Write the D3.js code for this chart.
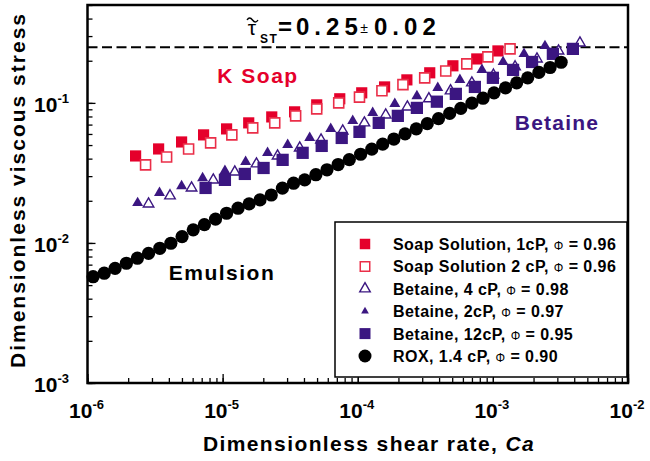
<!DOCTYPE html>
<meta charset="utf-8">
<head>
<script src="https://d3js.org/d3.v7.min.js"></script>
<style>
  body { margin: 0; background: #fff; }
  text { font-family: "Liberation Sans", Arial, sans-serif; font-weight: bold; fill: #000; }
</style>
</head>
<body>
<script>

// ---- data (Ca, dimensionless stress) ----
var soap1Ca  = [2.27e-6,3.36e-6,4.97e-6,7.23e-6,1.07e-5,1.56e-5,2.31e-5,3.41e-5,4.97e-5,7.36e-5,1.07e-4,1.58e-4,2.31e-4,3.41e-4,5.06e-4,7.60e-4,1.09e-3];
var soap1Tau = [0.0418,0.0469,0.0526,0.0591,0.0652,0.0720,0.0794,0.0863,0.0968,0.107,0.118,0.130,0.146,0.164,0.184,0.206,0.235];

var soap2Ca  = [2.69e-6,3.85e-6,5.60e-6,8.15e-6,1.17e-5,1.67e-5,2.43e-5,3.47e-5,4.97e-5,7.23e-5,1.03e-4,1.51e-4,2.16e-4,3.13e-4,4.48e-4,6.41e-4,9.18e-4,1.34e-3];
var soap2Tau = [0.0361,0.0411,0.0469,0.0518,0.0591,0.0663,0.0720,0.0808,0.0906,0.100,0.110,0.122,0.135,0.151,0.169,0.190,0.213,0.243];

var bet4Ca  = [2.83e-6,4.08e-6,5.89e-6,8.53e-6,1.23e-5,1.78e-5,2.55e-5,3.72e-5,5.35e-5,7.74e-5,1.12e-4,1.61e-4,2.33e-4,3.36e-4,4.86e-4,6.99e-4,1.01e-3,1.46e-3,2.12e-3,3.06e-3,4.41e-3];
var bet4Tau = [0.0190,0.0217,0.0247,0.0282,0.0321,0.0367,0.0418,0.0477,0.0544,0.0631,0.0720,0.0821,0.0936,0.107,0.122,0.139,0.158,0.181,0.206,0.235,0.268];

var bet2Ca  = [2.35e-6,3.41e-6,4.97e-6,7.11e-6,1.04e-5,1.48e-5,2.15e-5,3.03e-5,4.41e-5,6.31e-5,9.18e-5,1.29e-4,1.88e-4,2.74e-4,3.91e-4,5.70e-4,8.30e-4,1.19e-3,1.70e-3,2.43e-3];
var bet2Tau = [0.0193,0.0228,0.0255,0.0291,0.0327,0.0379,0.0440,0.0501,0.0562,0.0652,0.0744,0.0849,0.0984,0.112,0.128,0.146,0.172,0.196,0.224,0.255];

var bet12Ca  = [7.48e-6,1.04e-5,1.46e-5,2.01e-5,2.78e-5,3.91e-5,5.41e-5,7.61e-5,1.03e-4,1.43e-4,1.98e-4,2.74e-4,3.85e-4,5.32e-4,7.36e-4,1.00e-3,1.41e-3,1.95e-3,2.78e-3,3.91e-3];
var bet12Tau = [0.0247,0.0282,0.0311,0.0343,0.0392,0.0440,0.0493,0.0562,0.0621,0.0720,0.0808,0.0921,0.102,0.116,0.130,0.151,0.172,0.196,0.224,0.243];

var roxCa  = [1.10e-6,1.33e-6,1.60e-6,1.94e-6,2.34e-6,2.83e-6,3.43e-6,4.14e-6,5.01e-6,6.06e-6,7.33e-6,8.86e-6,1.07e-5,1.30e-5,1.57e-5,1.89e-5,2.29e-5,2.77e-5,3.35e-5,4.05e-5,4.90e-5,5.92e-5,7.16e-5,8.66e-5,1.05e-4,1.27e-4,1.53e-4,1.85e-4,2.24e-4,2.71e-4,3.27e-4,3.96e-4,4.79e-4,5.79e-4,7.00e-4,8.46e-4,1.02e-3,1.24e-3,1.50e-3,1.81e-3,2.19e-3,2.65e-3,3.20e-3];
var roxTau = [0.00574,0.00608,0.00659,0.00716,0.00778,0.00843,0.00916,0.00995,0.0111,0.0124,0.0135,0.0148,0.0163,0.0177,0.0190,0.0203,0.0220,0.0246,0.0267,0.0282,0.0307,0.0333,0.0363,0.0394,0.0430,0.0467,0.0508,0.0552,0.0601,0.0653,0.0711,0.0773,0.0841,0.0914,0.0995,0.108,0.118,0.128,0.139,0.151,0.165,0.179,0.195];

var tauST = 0.25;

var caMajor = [1e-6, 1e-5, 1e-4, 1e-3, 1e-2];
var caExp = ["-6", "-5", "-4", "-3", "-2"];
var tauMajor = [1e-3, 1e-2, 1e-1];
var tauExp = ["-3", "-2", "-1"];

var legendNames = [
  ["Soap Solution, 1cP, ", " = 0.96"],
  ["Soap Solution 2 cP, ", " = 0.96"],
  ["Betaine, 4 cP, ", " = 0.98"],
  ["Betaine, 2cP, ", " = 0.97"],
  ["Betaine, 12cP, ", " = 0.95"],
  ["ROX, 1.4 cP, ", " = 0.90"]
];

// ---- drawing ----
var width = 650, height = 461;
var red = "#e5002b", redLine = "#ea2e48", purple = "#3b1681";

var svg = d3.select("body").append("svg")
  .attr("width", width)
  .attr("height", height);

var x = d3.scaleLog().domain([1e-6, 1e-2]).range([87.5, 628]);
var y = d3.scaleLog().domain([1e-3, 0.5]).range([383, 5]);

// inward ticks, minor then major
function styleTicks(g) {
  g.select(".domain").remove();
  g.selectAll("line").attr("stroke", "#000").attr("stroke-width", 1.3);
}
svg.append("g").attr("transform", "translate(0,383)")
  .call(d3.axisBottom(x).tickValues(x.ticks()).tickSizeInner(-5).tickSizeOuter(0).tickFormat(""))
  .call(styleTicks);
svg.append("g").attr("transform", "translate(0,383)")
  .call(d3.axisBottom(x).tickValues(caMajor).tickSizeInner(-9).tickSizeOuter(0).tickFormat(""))
  .call(styleTicks);
svg.append("g").attr("transform", "translate(87.5,0)")
  .call(d3.axisLeft(y).tickValues(y.ticks()).tickSizeInner(-5).tickSizeOuter(0).tickFormat(""))
  .call(styleTicks);
svg.append("g").attr("transform", "translate(87.5,0)")
  .call(d3.axisLeft(y).tickValues(tauMajor).tickSizeInner(-8).tickSizeOuter(0).tickFormat(""))
  .call(styleTicks);

// tick labels 10^n
svg.selectAll(".xlab").data(caMajor).enter().append("text")
  .attr("class", "xlab")
  .attr("x", function(d) { return x(d) - 1; })
  .attr("y", 418)
  .attr("text-anchor", "middle")
  .style("font-size", "21px")
  .each(function(d, i) {
    var t = d3.select(this);
    t.append("tspan").text("10");
    t.append("tspan").attr("dy", -9).style("font-size", "13px").text(caExp[i]);
  });

svg.selectAll(".ylab").data(tauMajor).enter().append("text")
  .attr("class", "ylab")
  .attr("x", 69)
  .attr("y", function(d) { return y(d) + 9; })
  .attr("text-anchor", "end")
  .style("font-size", "21px")
  .each(function(d, i) {
    var t = d3.select(this);
    t.append("tspan").text("10");
    t.append("tspan").attr("dy", -9).style("font-size", "13px").text(tauExp[i]);
  });

// axis titles
svg.append("text")
  .attr("transform", "translate(25,190) rotate(-90)")
  .attr("text-anchor", "middle")
  .style("font-size", "21px")
  .style("letter-spacing", "2px")
  .text("Dimensionless viscous stress");

var xt = svg.append("text")
  .attr("x", 369).attr("y", 451)
  .attr("text-anchor", "middle")
  .style("font-size", "21px")
  .style("letter-spacing", "1.4px");
xt.append("tspan").text("Dimensionless shear rate, ");
xt.append("tspan").style("font-style", "italic").text("Ca");

// dashed yield-stress line
svg.append("line")
  .attr("x1", x(1e-6)).attr("x2", x(1e-2))
  .attr("y1", y(tauST)).attr("y2", y(tauST))
  .attr("stroke", "#000").attr("stroke-width", 2)
  .attr("stroke-dasharray", "10,4.5");

// title  tau~_ST = 0.25 +- 0.02
svg.append("text").attr("x", 252).attr("y", 35).attr("text-anchor", "middle")
  .style("font-size", "21px").style("font-weight", "normal").text("τ");
svg.append("path")
  .attr("d", "M247,20 q2.5,-4 5.5,0 t5.5,0")
  .attr("fill", "none").attr("stroke", "#000").attr("stroke-width", 1.4);
svg.append("text").attr("x", 260).attr("y", 43)
  .style("font-size", "12px").style("letter-spacing", "1.5px").text("ST");
svg.append("text").attr("x", 278).attr("y", 35)
  .style("font-size", "24px").text("=");
svg.append("text").attr("x", 296).attr("y", 35)
  .style("font-size", "24px").style("letter-spacing", "5px").text("0.2")
  .append("tspan").style("letter-spacing", "0px").text("5");
svg.append("text").attr("x", 364).attr("y", 33).attr("text-anchor", "middle")
  .style("font-size", "14px").style("font-weight", "normal").text("±");
svg.append("text").attr("x", 374).attr("y", 35)
  .style("font-size", "24px").style("letter-spacing", "5px").text("0.0")
  .append("tspan").style("letter-spacing", "0px").text("2");

// series
function pairs(ca, tau) { return ca.map(function(c, i) { return [c, tau[i]]; }); }
var sq = d3.symbol().type(d3.symbolSquare);
var tri = d3.symbol().type(d3.symbolTriangle);

function drawSymbols(data, gen, size, fill, stroke, sw) {
  svg.append("g").selectAll("path").data(data).enter().append("path")
    .attr("transform", function(d) { return "translate(" + x(d[0]) + "," + y(d[1]) + ")"; })
    .attr("d", gen.size(size)())
    .attr("fill", fill)
    .attr("stroke", stroke)
    .attr("stroke-width", sw);
}

drawSymbols(pairs(soap1Ca, soap1Tau), sq, 125, red, "none", 0);
drawSymbols(pairs(soap2Ca, soap2Tau), sq, 100, "#fff", redLine, 1.6);
drawSymbols(pairs(bet4Ca, bet4Tau), tri, 48, "#fff", purple, 1.4);
drawSymbols(pairs(bet2Ca, bet2Tau), tri, 52, purple, "none", 0);
drawSymbols(pairs(bet12Ca, bet12Tau), sq, 150, purple, "none", 0);

svg.append("g").selectAll("circle").data(pairs(roxCa, roxTau)).enter().append("circle")
  .attr("cx", function(d) { return x(d[0]); })
  .attr("cy", function(d) { return y(d[1]); })
  .attr("r", 6.6)
  .attr("fill", "#000");

// annotations
svg.append("text").attr("x", 258).attr("y", 83).attr("text-anchor", "middle")
  .style("font-size", "21px").style("letter-spacing", "1.5px").style("fill", red).text("K Soap");
svg.append("text").attr("x", 557).attr("y", 130).attr("text-anchor", "middle")
  .style("font-size", "21px").style("letter-spacing", "1.2px").style("fill", purple).text("Betaine");
svg.append("text").attr("x", 222).attr("y", 280).attr("text-anchor", "middle")
  .style("font-size", "21px").style("letter-spacing", "1.5px").text("Emulsion");

// legend
var leg = svg.append("g");
leg.append("rect")
  .attr("x", 335).attr("y", 222).attr("width", 292).attr("height", 155)
  .attr("fill", "#fff").attr("stroke", "#000").attr("stroke-width", 1.5);

var legY = d3.scalePoint().domain(d3.range(legendNames.length)).range([244, 356]);
var legMarks = [
  function(g) { g.append("path").attr("d", sq.size(110)()).attr("fill", red); },
  function(g) { g.append("path").attr("d", sq.size(90)()).attr("fill", "#fff").attr("stroke", redLine).attr("stroke-width", 1.5); },
  function(g) { g.append("path").attr("d", tri.size(48)()).attr("fill", "#fff").attr("stroke", purple).attr("stroke-width", 1.4); },
  function(g) { g.append("path").attr("d", tri.size(26)()).attr("fill", purple); },
  function(g) { g.append("path").attr("d", sq.size(121)()).attr("fill", purple); },
  function(g) { g.append("circle").attr("r", 6.5).attr("fill", "#000"); }
];
legendNames.forEach(function(n, i) {
  var g = leg.append("g").attr("transform", "translate(365," + legY(i) + ")");
  legMarks[i](g);
  var t = leg.append("text").attr("x", 393).attr("y", legY(i) + 6)
    .style("font-size", "16px").style("letter-spacing", "0.45px");
  t.append("tspan").text(n[0]);
  t.append("tspan").style("font-weight", "normal").style("font-size", "12px").text("Φ");
  t.append("tspan").text(n[1]);
});

// plot frame
svg.append("rect")
  .attr("x", 87.5).attr("y", 5).attr("width", 628 - 87.5).attr("height", 378)
  .attr("fill", "none").attr("stroke", "#000").attr("stroke-width", 2.5);

</script>
</body>
